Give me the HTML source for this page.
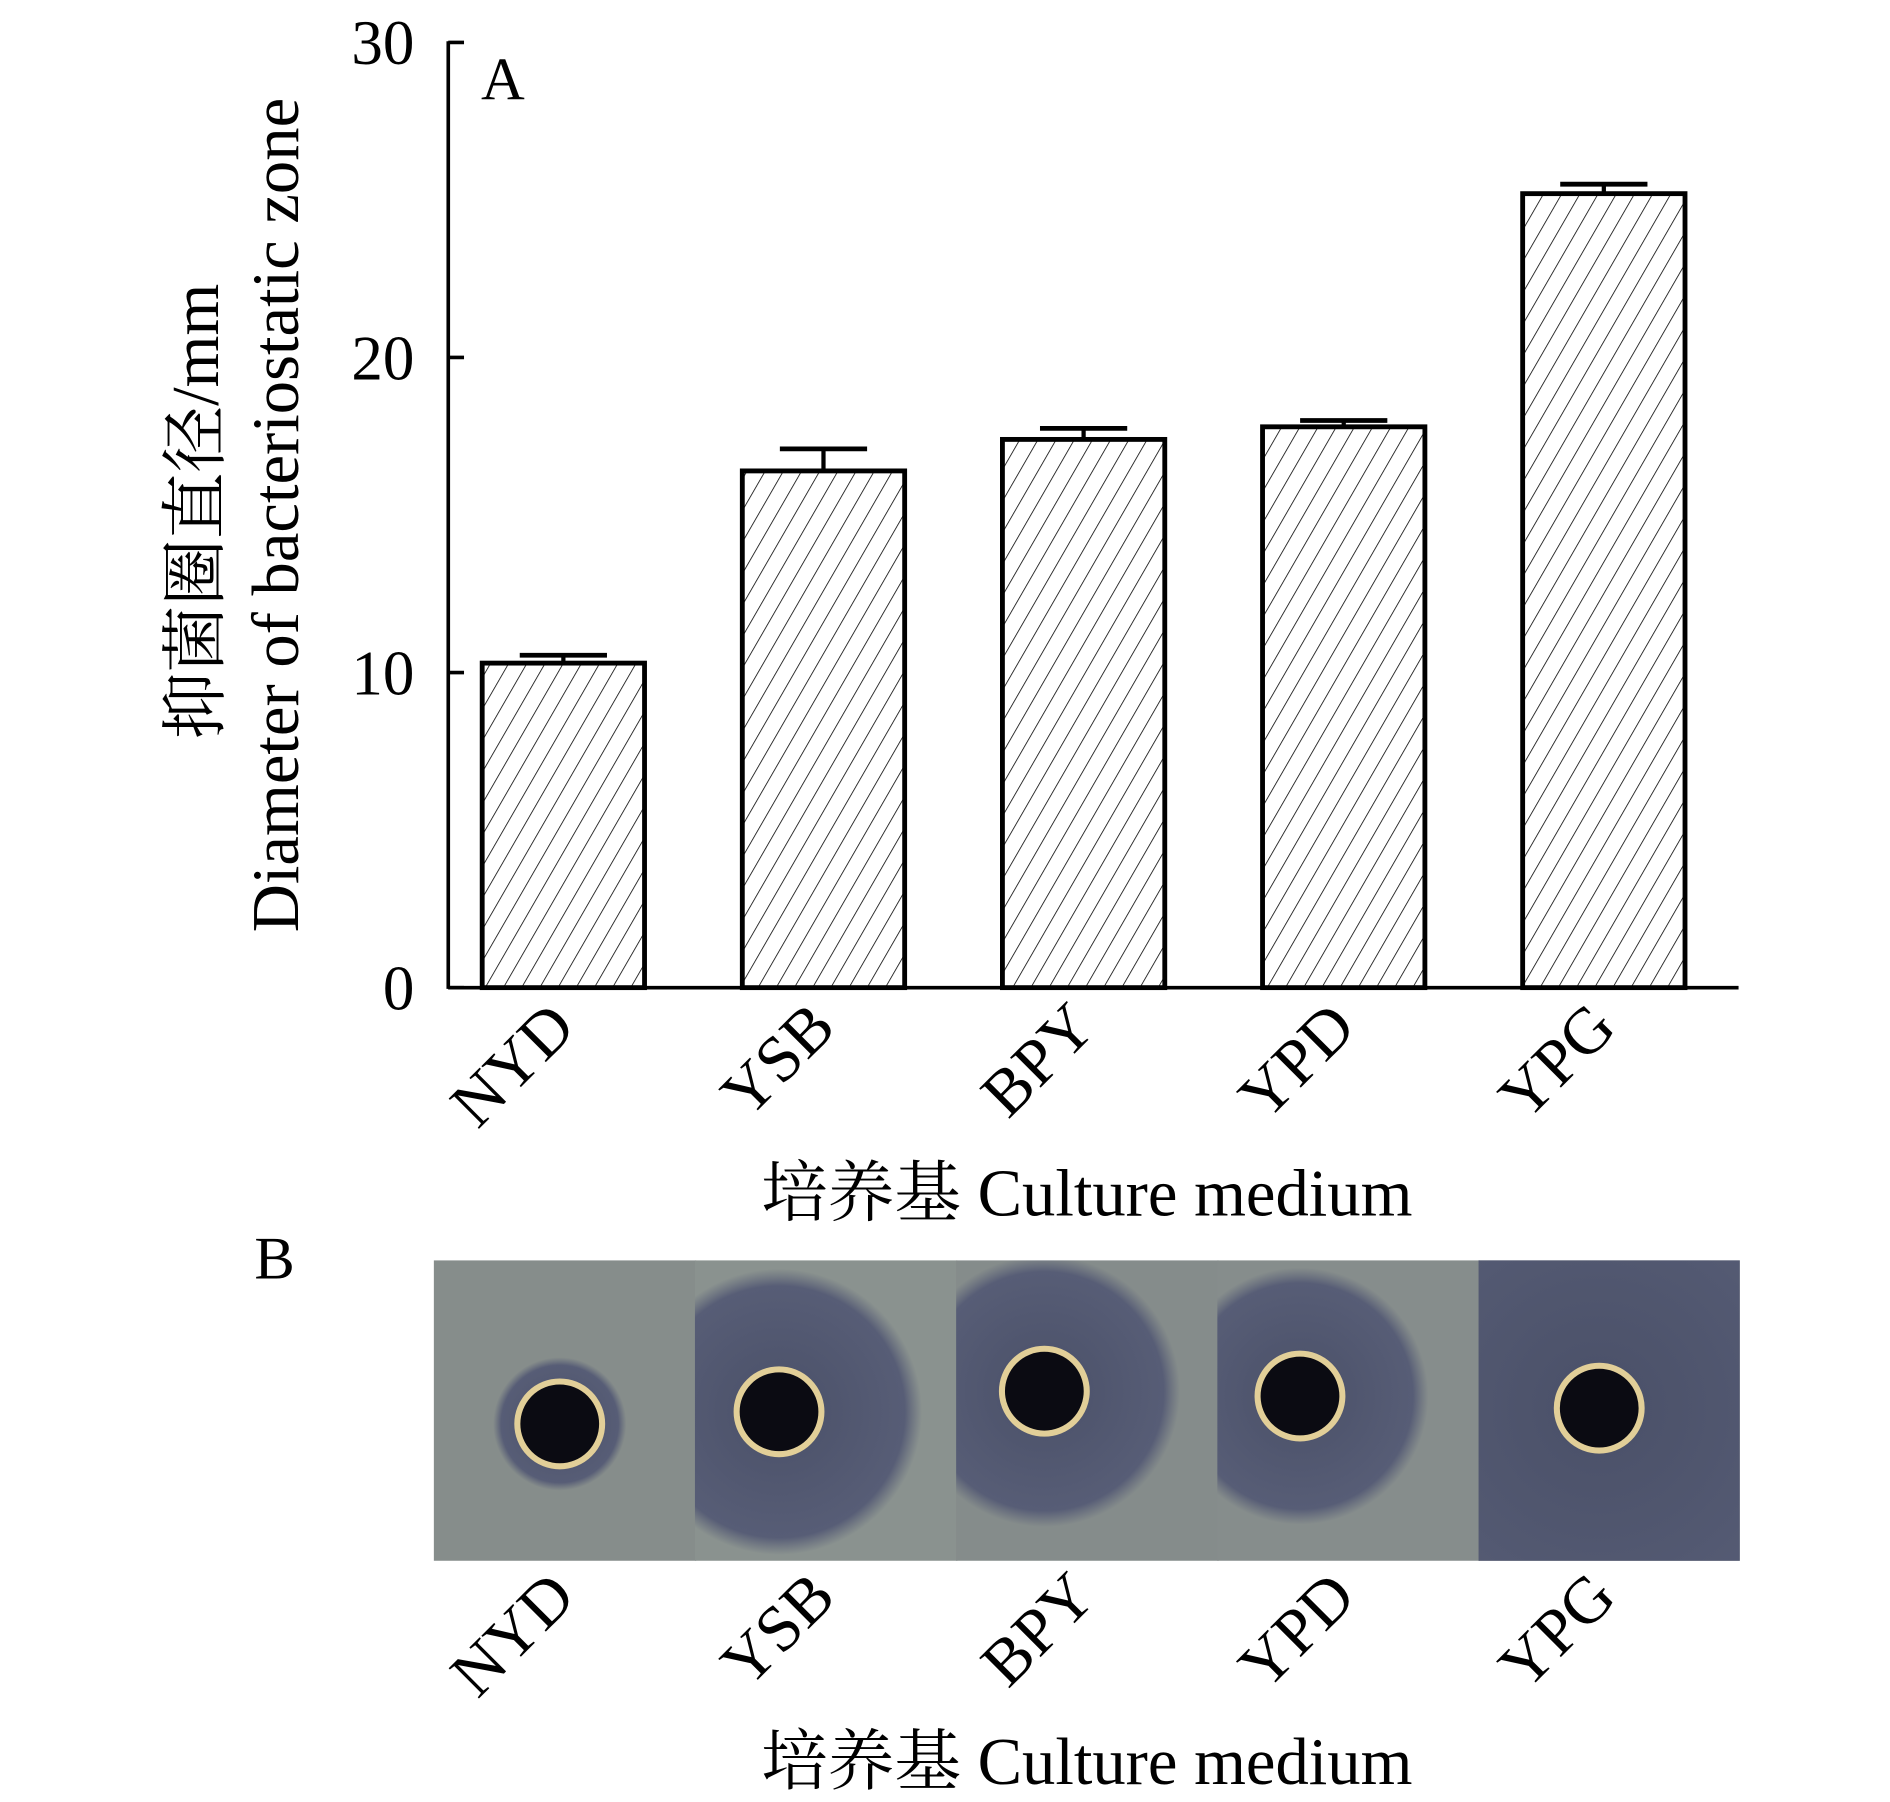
<!DOCTYPE html>
<html><head><meta charset="utf-8"><style>
html,body{margin:0;padding:0;background:#fff}
svg{display:block}
text{font-family:"Liberation Serif","Noto Serif CJK SC",serif;fill:#000}
</style></head><body>
<svg id="fig" width="1890" height="1802" viewBox="0 0 1560 1487" preserveAspectRatio="none" xmlns="http://www.w3.org/2000/svg">
<defs>
<pattern id="hatch" patternUnits="userSpaceOnUse" width="13" height="13" patternTransform="rotate(30)">
<line x1="0" y1="0" x2="0" y2="13" stroke="#000" stroke-width="1.3"/>
</pattern>
<radialGradient id="halo">
<stop offset="0" stop-color="#4a5068"/><stop offset="0.88" stop-color="#575d76"/><stop offset="1" stop-color="#5c6278" stop-opacity="0"/>
</radialGradient>
</defs>
<g id="chart"></g>
<g id="photo"></g>
</svg>
<script>
const categories=["NYD","YSB","BPY","YPD","YPG"];
const values=[10.3,16.4,17.4,17.8,25.2];
const errors=[0.25,0.7,0.35,0.2,0.3];
const yTicks=[0,10,20,30];
const haloRadii=[55,118,112,106,240];
const NS="http://www.w3.org/2000/svg";
function mk(tag,attrs,parent,txt){const e=document.createElementNS(NS,tag);for(const k in attrs)e.setAttribute(k,attrs[k]);if(txt!==undefined)e.textContent=txt;parent.appendChild(e);return e;}
const y0=815,yUnit=26.0;
function yScale(v){return y0-v*yUnit;}
const xStart=398,step=214.7,barW=134;
function xScale(i){return xStart+i*step;}
const g=document.getElementById('chart');
let ax=mk('line',{x1:370,y1:y0,x2:1435,y2:y0,stroke:'#000','stroke-width':3},g);


let ay=mk('line',{x1:370,y1:yScale(30)-1,x2:370,y2:y0+1,stroke:'#000','stroke-width':3},g);


yTicks.forEach(t=>{
  let tk=mk('line',{x1:370,y1:yScale(t),x2:383,y2:yScale(t),stroke:'#000','stroke-width':3},g);
  
  
  let tl=mk('text',{x:342,y:yScale(t)+18,'text-anchor':'end','font-size':52},g,String(t));
  
  
});
values.forEach((v,i)=>{
  const x=xScale(i),top=yScale(v);
  let r=mk('rect',{x:x,y:top,width:barW,height:y0-top,fill:'url(#hatch)',stroke:'#000','stroke-width':4},g);
  
  
  const cx=x+barW/2,et=yScale(v+errors[i]);
  let el=mk('line',{x1:cx,y1:top,x2:cx,y2:et,stroke:'#000','stroke-width':3.5},g);
  
  
  let ec=mk('line',{x1:cx-36,y1:et,x2:cx+36,y2:et,stroke:'#000','stroke-width':4},g);
  
  
  let lb=mk('text',{x:0,y:0,'text-anchor':'end','font-size':54,transform:`translate(${cx+12},${850}) rotate(-45)`},g,categories[i]);
  
  
});
let pa=mk('text',{x:397,y:82,'font-size':50},g,'A');


let xt=mk('text',{x:897,y:1003,'text-anchor':'middle','font-size':55},g,'培养基 Culture medium');


let yt1=mk('text',{x:0,y:0,'text-anchor':'middle','font-size':55,transform:'translate(180,422) rotate(-90)'},g,'抑菌圈直径/mm');


let yt2=mk('text',{x:0,y:0,'text-anchor':'middle','font-size':55,transform:'translate(246,425) rotate(-90)'},g,'Diameter of bacteriostatic zone');


const p=document.getElementById('photo');
let pb=mk('text',{x:210,y:1055,'font-size':50},p,'B');


const px=358,py=1040,pw=1078,ph=248,panW=pw/5;
const bgs=['#868d8b','#8a928f','#858c8b','#868d8c','#83898a'];
const centers=[[462,1175],[643,1165],[862,1148],[1073,1152],[1320,1162]];
let cp=mk('clipPath',{id:'pc'},p);mk('rect',{x:px,y:py,width:pw,height:ph},cp);
const pg=mk('g',{'clip-path':'url(#pc)'},p);
categories.forEach((c,i)=>{
  let bg=mk('rect',{x:px+i*panW,y:py,width:panW+1,height:ph,fill:bgs[i]},pg);
  
  
});
categories.forEach((c,i)=>{
  const [cx,cy]=centers[i];
  const sub=mk('g',{},pg);
  let cl=mk('clipPath',{id:'cl'+i},p);mk('rect',{x:px+i*panW,y:py,width:panW+1,height:ph},cl);
  sub.setAttribute('clip-path','url(#cl'+i+')');
  let h=mk('circle',{cx:cx,cy:cy,r:haloRadii[i],fill:'url(#halo)'},sub);
  
  
  let w=mk('circle',{cx:cx,cy:cy,r:35,fill:'#0b0b12',stroke:'#e2cf98','stroke-width':5},sub);
  
  
  let lb=mk('text',{x:0,y:0,'text-anchor':'end','font-size':54,transform:`translate(${xScale(i)+barW/2+12},${1320}) rotate(-45)`},p,c);
  
  
});
let xt2=mk('text',{x:897,y:1472,'text-anchor':'middle','font-size':55},p,'培养基 Culture medium');


</script>
</body></html>
